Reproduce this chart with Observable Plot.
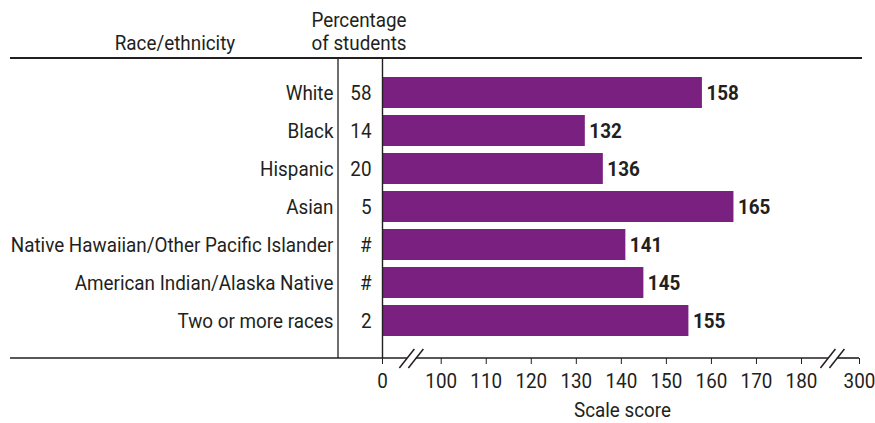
<!DOCTYPE html>
<html><head><meta charset="utf-8">
<script src="https://cdn.jsdelivr.net/npm/d3@7"></script>
<script src="https://cdn.jsdelivr.net/npm/@observablehq/plot@0.6"></script>
<style>body{margin:0;background:#fff} svg{display:block}</style>
</head><body><div id="chart"></div>
<script>
const categories = ["White","Black","Hispanic","Asian","Native Hawaiian/Other Pacific Islander","American Indian/Alaska Native","Two or more races"];
const percentages = ["58","14","20","5","#","#","2"];
const scores = [158,132,136,165,141,145,155];
const tickValues = [0,100,110,120,130,140,150,160,170,180,300];
const axisBreaks = [50, 245];

const data = categories.map((c, i) => ({cat: c, pct: percentages[i], score: scores[i]}));
const FONT = "Roboto,'Liberation Sans',sans-serif";
const INK = "#231f20";

const plot = Plot.plot({
  width: 875, height: 423,
  marginLeft: 382, marginRight: 13, marginTop: 58, marginBottom: 65,
  style: {fontFamily: FONT, fontSize: "21px", color: INK, background: "#fff"},
  x: {type: "linear", domain: [0, 100, 180, 300], range: [382, 440.7, 801, 859]},
  y: {type: "band", domain: categories, range: [68.6, 344.8], padding: 0.193},
  marks: [
    Plot.barX(data, {x: "score", y: "cat", fill: "#7a2080"}),
    Plot.text(data, {x: "score", y: "cat", text: d => String(d.score), textAnchor: "start", dx: 4, fontWeight: "bold", fill: INK}),
    Plot.ruleX([0], {stroke: INK, strokeWidth: 1.4}),
    Plot.axisY({tickSize: 0, tickPadding: 49, label: null, fill: INK}),
    Plot.axisY({tickSize: 0, tickPadding: 11, label: null, fill: INK, tickFormat: d => percentages[categories.indexOf(d)]}),
    Plot.axisX({ticks: tickValues, tickSize: 6, tickPadding: 9, tickFormat: d => String(d), label: "Scale score", labelAnchor: "center", labelArrow: false, labelOffset: 58, fontSize: 21, stroke: INK, fill: INK})
  ]
});
document.getElementById("chart").appendChild(plot);

const svg = d3.select(plot);
const x = plot.scale("x");
const g = svg.append("g").attr("stroke", INK).attr("stroke-width", 1.3).attr("fill", "none");
// top rule and vertical separator
g.append("line").attr("x1", 10).attr("x2", 862).attr("y1", 58).attr("y2", 58).attr("stroke-width", 2);
g.append("line").attr("x1", 338).attr("x2", 338).attr("y1", 58).attr("y2", 358);
// bottom rule / axis line with breaks
const b0 = x.apply(axisBreaks[0]), b1 = x.apply(axisBreaks[1]);
const gap = 4.5;
const segs = [[10, b0 - gap], [b0 + gap, b1 - gap], [b1 + gap, x.apply(300)]];
segs.forEach(([a, b]) => g.append("line").attr("x1", a).attr("x2", b).attr("y1", 358).attr("y2", 358).attr("stroke-width", 1.6));
[b0, b1].forEach(c => {
  [c - gap, c + gap].forEach(s => {
    g.append("line").attr("x1", s - 7.5).attr("y1", 368).attr("x2", s + 7.5).attr("y2", 349).attr("stroke-width", 1.5);
  });
});
// header labels
const hdr = svg.append("g").attr("font-family", FONT).attr("font-size", 21).attr("fill", INK).attr("text-anchor", "middle");
hdr.append("text").attr("x", 175).attr("y", 50).text("Race/ethnicity");
hdr.append("text").attr("x", 359).attr("y", 27).text("Percentage");
hdr.append("text").attr("x", 359).attr("y", 50).text("of students");

// condense all text horizontally around its anchor (the reference uses a condensed face)
const texts = Array.from(plot.querySelectorAll("text"));
let k = 0.8;
texts.forEach(t => { if (t.textContent === categories[4]) k = 323 / t.getComputedTextLength(); });
texts.forEach(t => {
  if (!t.getComputedTextLength()) return;
  const m = t.transform.baseVal.consolidate();
  const ex = m ? m.matrix.e : 0;
  const xs = t.x.baseVal;
  const ax = ex + (xs.numberOfItems ? xs.getItem(0).value : 0);
  const w = document.createElementNS("http://www.w3.org/2000/svg", "g");
  w.setAttribute("transform", `translate(${ax},0) scale(${k},1) translate(${-ax},0)`);
  t.parentNode.insertBefore(w, t);
  w.appendChild(t);
});
</script></body></html>
